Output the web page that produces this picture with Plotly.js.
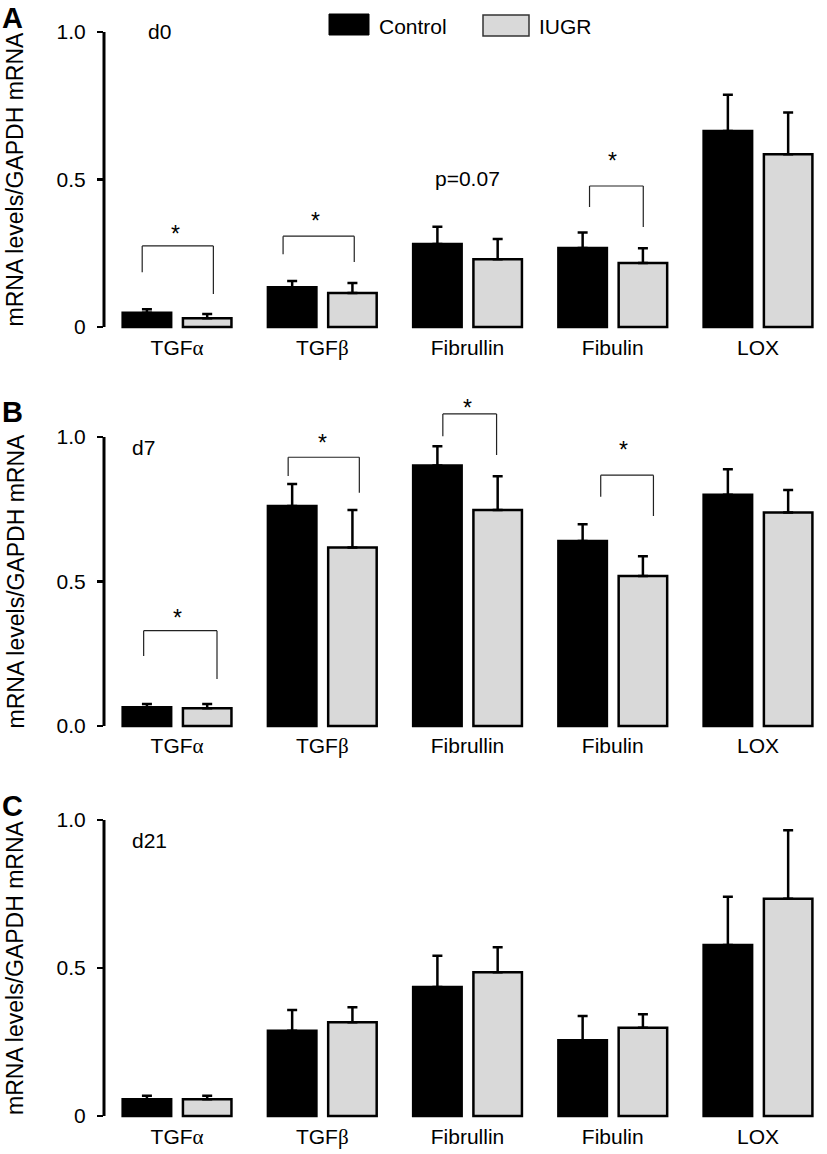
<!DOCTYPE html>
<html>
<head>
<meta charset="utf-8">
<script src="https://cdn.plot.ly/plotly-3.0.1.min.js"></script>
<style>
  body { margin: 0; background: #fff; }
  #chart { width: 827px; height: 1154px; }
</style>
</head>
<body>
<div id="chart"></div>
<script>
// categories
var genes = ['TGFα', 'TGFβ', 'Fibrullin', 'Fibulin', 'LOX'];
var geneLabels = ['TGF<span style="font-family:Liberation Serif">α</span>',
                  'TGF<span style="font-family:Liberation Serif">β</span>',
                  'Fibrullin', 'Fibulin', 'LOX'];

// d0 (panel A)
var d0Control = [0.048, 0.135, 0.281, 0.268, 0.664];
var d0ControlErr = [0.012, 0.021, 0.059, 0.052, 0.123];
var d0Iugr = [0.030, 0.115, 0.230, 0.217, 0.586];
var d0IugrErr = [0.014, 0.034, 0.068, 0.050, 0.141];

// d7 (panel B)
var d7Control = [0.065, 0.761, 0.901, 0.640, 0.800];
var d7ControlErr = [0.011, 0.076, 0.067, 0.058, 0.088];
var d7Iugr = [0.061, 0.618, 0.747, 0.519, 0.739];
var d7IugrErr = [0.015, 0.129, 0.117, 0.068, 0.078];

// d21 (panel C)
var d21Control = [0.057, 0.288, 0.436, 0.256, 0.578];
var d21ControlErr = [0.011, 0.070, 0.105, 0.082, 0.163];
var d21Iugr = [0.057, 0.317, 0.486, 0.298, 0.734];
var d21IugrErr = [0.011, 0.050, 0.084, 0.046, 0.231];

// y tick labels per panel
var tickTextA = ['0', '0.5', '1.0'];
var tickTextB = ['0.0', '0.5', '1.0'];
var tickTextC = ['0', '0.5', '1.0'];

// significance brackets: [gene index, left dx, right dx, left foot, top, right foot]
var bracketsA = [[0, -0.24, 0.25, 0.186, 0.275, 0.112],
                 [1, -0.27, 0.22, 0.247, 0.308, 0.220],
                 [3, -0.16, 0.21, 0.407, 0.478, 0.339]];
var bracketsB = [[0, -0.23, 0.275, 0.242, 0.330, 0.163],
                 [1, -0.235, 0.255, 0.865, 0.930, 0.807],
                 [2, -0.17, 0.20, 1.003, 1.080, 0.938],
                 [3, -0.083, 0.28, 0.793, 0.868, 0.727]];
// stars / notes: [gene index, dx, y, text]
var notesA = [[0, -0.01, 0.336, '*'], [1, -0.05, 0.380, '*'], [3, 0, 0.583, '*'], [2, 0, 0.505, 'p=0.07']];
var notesB = [[0, 0, 0.396, '*'], [1, 0, 1.000, '*'], [2, 0, 1.120, '*'], [3, 0.076, 0.975, '*']];

var W = 827, H = 1154;
var FONT = 'Liberation Sans, Arial, sans-serif';
var grey = '#d9d9d9';

function px(x) { return x / W; }
function py(y) { return 1 - y / H; }

// panel geometry: pixel of zero, pixels per unit, range top
var panels = [
  {zero: 327, scale: 295, hi: 1.10, ticks: tickTextA, day: 'd0', dayX: 146, dayY: 1.0, letter: 'A', letterY: 0, letterAnchor: 'top',
   c: d0Control, ce: d0ControlErr, i: d0Iugr, ie: d0IugrErr, br: bracketsA, notes: notesA},
  {zero: 726, scale: 289, hi: 1.17, ticks: tickTextB, day: 'd7', dayX: 130, dayY: 0.962, letter: 'B', letterY: 412, letterAnchor: 'middle',
   c: d7Control, ce: d7ControlErr, i: d7Iugr, ie: d7IugrErr, br: bracketsB, notes: notesB},
  {zero: 1116, scale: 296, hi: 1.10, ticks: tickTextC, day: 'd21', dayX: 130, dayY: 0.932, letter: 'C', letterY: 806, letterAnchor: 'middle',
   c: d21Control, ce: d21ControlErr, i: d21Iugr, ie: d21IugrErr, br: [], notes: []}
];

var lo = -0.012;
var data = [];
var layout = {
  width: W, height: H,
  margin: {l: 0, r: 0, t: 0, b: 0},
  paper_bgcolor: '#fff', plot_bgcolor: '#fff',
  barmode: 'group', bargap: 0.17, bargroupgap: 0.195,
  showlegend: false,
  font: {family: FONT, size: 21, color: '#000'},
  shapes: [], annotations: []
};

panels.forEach(function (p, k) {
  var n = k === 0 ? '' : String(k + 1);
  var xa = 'x' + n, ya = 'y' + n;
  var zeros = p.c.map(function () { return 0; });

  data.push({
    type: 'bar', x: genes, y: p.c, xaxis: xa, yaxis: ya, name: 'Control',
    marker: {color: '#000', line: {color: '#000', width: 2.5}},
    error_y: {type: 'data', symmetric: false, array: p.ce, arrayminus: zeros, color: '#000', thickness: 2.5, width: 5}
  });
  data.push({
    type: 'bar', x: genes, y: p.i, xaxis: xa, yaxis: ya, name: 'IUGR',
    marker: {color: grey, line: {color: '#000', width: 2.5}},
    error_y: {type: 'data', symmetric: false, array: p.ie, arrayminus: zeros, color: '#000', thickness: 2.5, width: 5}
  });

  var bottom = p.zero - lo * p.scale, top = p.zero - p.hi * p.scale;
  layout['xaxis' + n] = {
    domain: [px(104), 1], range: [-0.503, 4.475], anchor: ya,
    type: 'category', tickmode: 'array', tickvals: genes, ticktext: geneLabels,
    showline: false, showgrid: false, zeroline: false, ticks: '',
    ticklabelstandoff: 2, tickfont: {family: FONT, size: 21, color: '#000'}
  };
  layout['yaxis' + n] = {
    domain: [py(bottom), py(top)], range: [lo, p.hi], anchor: xa,
    tickmode: 'array', tickvals: [0, 0.5, 1], ticktext: p.ticks,
    showline: false, showgrid: false, zeroline: false,
    ticks: 'outside', ticklen: 6, tickwidth: 2.5, tickcolor: '#000',
    ticklabelstandoff: 7,
    tickfont: {family: FONT, size: 21, color: '#000'}
  };

  // y axis line from 0 to 1
  layout.shapes.push({type: 'line', xref: 'paper', yref: ya, x0: px(104), x1: px(104), y0: 0, y1: 1,
    line: {color: '#000', width: 3}});

  // axis title
  layout.annotations.push({xref: 'paper', yref: ya, x: px(15), y: 0.5, xanchor: 'center', yanchor: 'middle',
    text: 'mRNA levels/GAPDH mRNA', textangle: -90, showarrow: false, font: {family: FONT, size: 23}});
  // day label
  layout.annotations.push({xref: 'paper', yref: ya, x: px(p.dayX), y: p.dayY, xanchor: 'left', yanchor: 'middle',
    text: p.day, showarrow: false, font: {family: FONT, size: 21}});
  // panel letter
  layout.annotations.push({xref: 'paper', yref: 'paper', x: px(0), y: py(p.letterY), xanchor: 'left', yanchor: p.letterAnchor,
    text: '<b>' + p.letter + '</b>', showarrow: false, font: {family: FONT, size: 29}});

  p.br.forEach(function (b) {
    var xl = b[0] + b[1], xr = b[0] + b[2];
    var st = {color: '#222', width: 1.2};
    layout.shapes.push({type: 'line', xref: xa, yref: ya, x0: xl, x1: xl, y0: b[3], y1: b[4], line: st});
    layout.shapes.push({type: 'line', xref: xa, yref: ya, x0: xl, x1: xr, y0: b[4], y1: b[4], line: st});
    layout.shapes.push({type: 'line', xref: xa, yref: ya, x0: xr, x1: xr, y0: b[4], y1: b[5], line: st});
  });
  p.notes.forEach(function (s) {
    var star = s[3] === '*';
    layout.annotations.push({xref: xa, yref: ya, x: s[0] + s[1], y: s[2], yanchor: 'middle', text: s[3], showarrow: false,
      yshift: star ? -6 : 0, font: {family: FONT, size: star ? 23 : 21}});
  });
});

// legend drawn as swatches + labels
layout.shapes.push({type: 'rect', xref: 'paper', yref: 'paper', x0: px(329), x1: px(369), y0: py(35), y1: py(14),
  fillcolor: '#000', line: {color: '#000', width: 1}});
layout.shapes.push({type: 'rect', xref: 'paper', yref: 'paper', x0: px(483), x1: px(529), y0: py(36), y1: py(15),
  fillcolor: grey, line: {color: '#333', width: 1.5}});
layout.annotations.push({xref: 'paper', yref: 'paper', x: px(377), y: py(26), xanchor: 'left', yanchor: 'middle',
  text: 'Control', showarrow: false, font: {family: FONT, size: 21}});
layout.annotations.push({xref: 'paper', yref: 'paper', x: px(537), y: py(26), xanchor: 'left', yanchor: 'middle',
  text: 'IUGR', showarrow: false, font: {family: FONT, size: 21}});

Plotly.newPlot('chart', data, layout, {staticPlot: true});
</script>
</body>
</html>
